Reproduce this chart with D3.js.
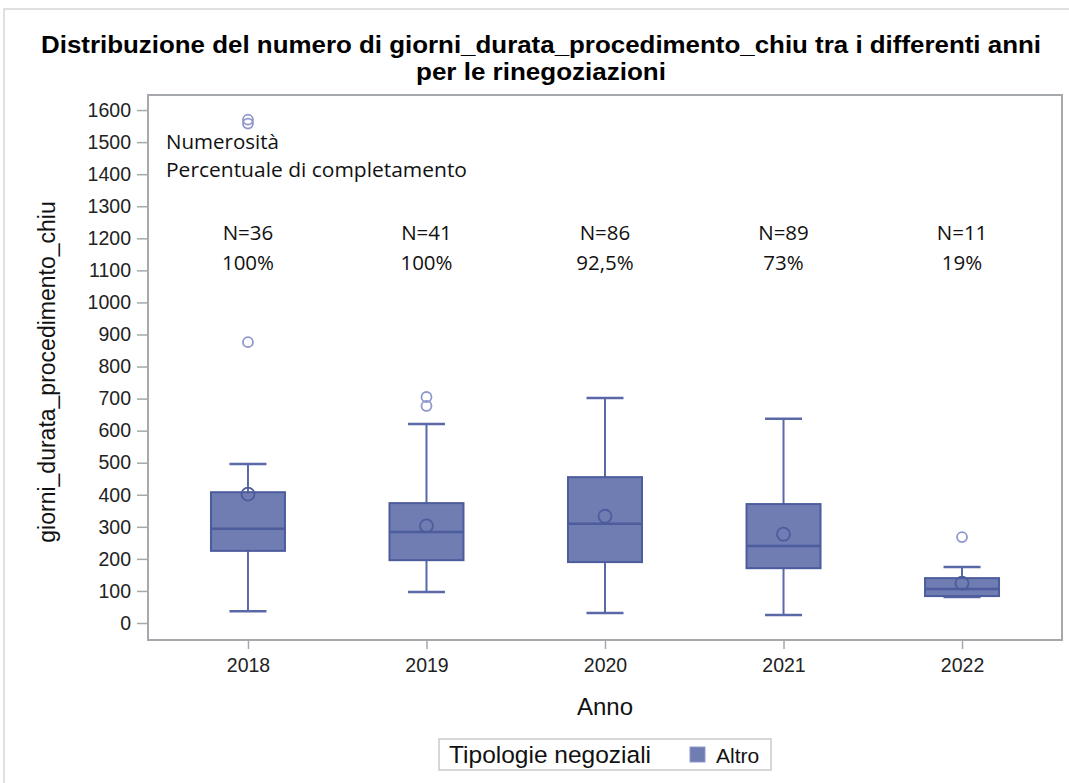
<!DOCTYPE html>
<html>
<head>
<meta charset="utf-8">
<script src="https://cdn.jsdelivr.net/npm/d3@7"></script>
<style>
  html, body { margin: 0; padding: 0; background: #ffffff; }
  svg { display: block; }
</style>
</head>
<body>
<svg id="chart" width="1069" height="783"></svg>
<script>
// ---- Data ----
const years = ["2018", "2019", "2020", "2021", "2022"];
const whiskerLow  = [37, 97, 31, 25, 81];
const q1          = [225, 196, 190, 171, 84];
const median      = [294, 284, 310, 240, 106];
const q3          = [408, 374, 455, 371, 140];
const whiskerHigh = [496, 621, 702, 637, 175];
const means       = [402, 303, 333, 277, 124];
const outlierYears  = ["2018", "2018", "2018", "2019", "2019", "2022"];
const outlierValues = [876, 1558, 1570, 705, 677, 268];
const nLabels   = ["N=36", "N=41", "N=86", "N=89", "N=11"];
const pctLabels = ["100%", "100%", "92,5%", "73%", "19%"];
const yTicks = [0, 100, 200, 300, 400, 500, 600, 700, 800, 900, 1000, 1100, 1200, 1300, 1400, 1500, 1600];

// ---- Layout ----
const svg = d3.select("#chart");
const W = 1069, H = 783;
const plot = { left: 148, right: 1062, top: 95, bottom: 640 };

const x = d3.scalePoint().domain(years).range([plot.left, plot.right]).padding(0.56);
const y = d3.scaleLinear().domain([-53, 1647]).range([plot.bottom, plot.top]);

const fillC = "#6f7db3";
const strokeC = "#4d5c9c";
const lineC = "#5a68a8";
const outC = "#8f98cc";
const frameC = "#a5a9ad";
const sans = "Liberation Sans, Arial, sans-serif";

// outer border
svg.append("rect").attr("x", 4).attr("y", 9).attr("width", W + 10).attr("height", H + 10)
  .attr("fill", "#ffffff").attr("stroke", "#d4d6d8").attr("stroke-width", 1.5);

// title
const title = svg.append("text").attr("text-anchor", "middle")
  .attr("font-family", sans).attr("font-weight", "bold")
  .attr("font-size", 23).attr("fill", "#000");
title.append("tspan").attr("x", 541).attr("y", 53)
  .attr("textLength", 1000).attr("lengthAdjust", "spacingAndGlyphs")
  .text("Distribuzione del numero di giorni_durata_procedimento_chiu tra i differenti anni");
title.append("tspan").attr("x", 541).attr("y", 80)
  .attr("textLength", 250).attr("lengthAdjust", "spacingAndGlyphs")
  .text("per le rinegoziazioni");

// plot frame
svg.append("rect").attr("x", plot.left).attr("y", plot.top)
  .attr("width", plot.right - plot.left).attr("height", plot.bottom - plot.top)
  .attr("fill", "#ffffff").attr("stroke", frameC).attr("stroke-width", 2);

// y axis
const yAxis = d3.axisLeft(y).tickValues(yTicks).tickSize(11).tickPadding(6).tickFormat(d3.format("d"));
const gy = svg.append("g").attr("transform", `translate(${plot.left},0)`).call(yAxis);
gy.select(".domain").remove();
gy.selectAll(".tick line").attr("stroke", frameC).attr("stroke-width", 1.5);
gy.selectAll(".tick text").attr("font-family", sans)
  .attr("font-size", 19.5).attr("fill", "#222");

// x axis
const xAxis = d3.axisBottom(x).tickSize(9).tickPadding(9);
const gx = svg.append("g").attr("transform", `translate(0,${plot.bottom})`).call(xAxis);
gx.select(".domain").remove();
gx.selectAll(".tick line").attr("stroke", frameC).attr("stroke-width", 1.5);
gx.selectAll(".tick text").attr("font-family", sans)
  .attr("font-size", 19.5).attr("fill", "#222");

// axis titles
svg.append("text").attr("x", 605).attr("y", 715).attr("text-anchor", "middle")
  .attr("font-family", sans).attr("font-size", 24).attr("fill", "#111")
  .text("Anno");
svg.append("text").attr("transform", "translate(55,372) rotate(-90)").attr("text-anchor", "middle")
  .attr("font-family", sans).attr("font-size", 23).attr("fill", "#111")
  .text("giorni_durata_procedimento_chiu");

// boxes
const boxW = 74, capW = 37;
const boxes = years.map((yr, i) => ({ yr, lo: whiskerLow[i], q1: q1[i], med: median[i], q3: q3[i], hi: whiskerHigh[i], mean: means[i] }));
const g = svg.append("g");
boxes.forEach(b => {
  const cx = x(b.yr);
  g.append("line").attr("x1", cx).attr("x2", cx).attr("y1", y(b.q3)).attr("y2", y(b.hi))
    .attr("stroke", lineC).attr("stroke-width", 2);
  g.append("line").attr("x1", cx).attr("x2", cx).attr("y1", y(b.q1)).attr("y2", y(b.lo))
    .attr("stroke", lineC).attr("stroke-width", 2);
  g.append("line").attr("x1", cx - capW / 2).attr("x2", cx + capW / 2).attr("y1", y(b.hi)).attr("y2", y(b.hi))
    .attr("stroke", lineC).attr("stroke-width", 2.5);
  g.append("line").attr("x1", cx - capW / 2).attr("x2", cx + capW / 2).attr("y1", y(b.lo)).attr("y2", y(b.lo))
    .attr("stroke", lineC).attr("stroke-width", 2.5);
  g.append("rect").attr("x", cx - boxW / 2).attr("y", y(b.q3)).attr("width", boxW).attr("height", y(b.q1) - y(b.q3))
    .attr("fill", fillC).attr("stroke", strokeC).attr("stroke-width", 2);
  g.append("line").attr("x1", cx - boxW / 2).attr("x2", cx + boxW / 2).attr("y1", y(b.med)).attr("y2", y(b.med))
    .attr("stroke", strokeC).attr("stroke-width", 2.5);
  g.append("circle").attr("cx", cx).attr("cy", y(b.mean)).attr("r", 6.5)
    .attr("fill", "none").attr("stroke", strokeC).attr("stroke-width", 1.8);
});

// outliers
outlierValues.forEach((v, i) => {
  g.append("circle").attr("cx", x(outlierYears[i])).attr("cy", y(v)).attr("r", 5)
    .attr("fill", "none").attr("stroke", outC).attr("stroke-width", 1.8);
});

// annotations
const annFont = "Open Sans, Noto Sans, sans-serif";
const annSize = 20.5;
svg.append("text").attr("x", 166).attr("y", 149).attr("font-family", annFont).attr("font-size", annSize)
  .attr("fill", "#111").text("Numerosità");
svg.append("text").attr("x", 166).attr("y", 177).attr("font-family", annFont).attr("font-size", annSize)
  .attr("fill", "#111").attr("textLength", 301).attr("lengthAdjust", "spacingAndGlyphs")
  .text("Percentuale di completamento");
years.forEach((yr, i) => {
  svg.append("text").attr("x", x(yr)).attr("y", 240).attr("text-anchor", "middle")
    .attr("font-family", annFont).attr("font-size", annSize).attr("fill", "#111").text(nLabels[i]);
  svg.append("text").attr("x", x(yr)).attr("y", 270).attr("text-anchor", "middle")
    .attr("font-family", annFont).attr("font-size", annSize).attr("fill", "#111").text(pctLabels[i]);
});

// legend
const lg = svg.append("g");
lg.append("rect").attr("x", 439).attr("y", 739).attr("width", 332).attr("height", 31)
  .attr("fill", "#ffffff").attr("stroke", "#c8cacc").attr("stroke-width", 1.5);
lg.append("text").attr("x", 449).attr("y", 763).attr("font-family", sans)
  .attr("font-size", 24.5).attr("fill", "#111").text("Tipologie negoziali");
lg.append("rect").attr("x", 690).attr("y", 747).attr("width", 15).attr("height", 15)
  .attr("fill", fillC).attr("stroke", "#8f98cc").attr("stroke-width", 1);
lg.append("text").attr("x", 716).attr("y", 763).attr("font-family", sans)
  .attr("font-size", 21).attr("fill", "#111").text("Altro");
</script>
</body>
</html>
